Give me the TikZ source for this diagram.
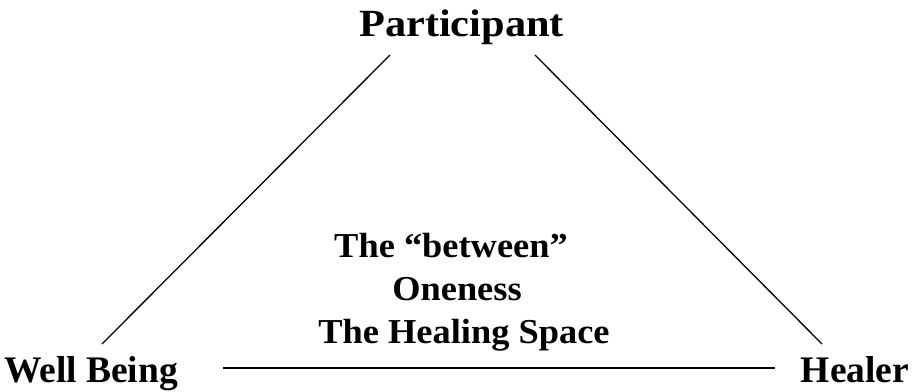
\documentclass[tikz,border=0pt]{standalone}
\usepackage{fontspec}
\setmainfont{Liberation Serif}
\begin{document}
\begin{tikzpicture}[x=1pt,y=-1pt,
  lbl/.style={font=\bfseries\fontsize{37.5}{44}\selectfont, inner sep=0pt, anchor=base},
  toplbl/.style={font=\bfseries\fontsize{38.5}{44}\selectfont, inner sep=0pt, anchor=base, xscale=1.1},
  midlbl/.style={font=\bfseries\fontsize{35}{40}\selectfont, inner sep=0pt, anchor=base, xscale=1.04},
  edge/.style={draw=black, line width=1.3pt}]
\useasboundingbox (0,0) rectangle (913,391);
\node[toplbl] (participant) at (461.5,36.5) {Participant};
\node[lbl] (wellbeing) at (91,382.5) {Well Being};
\node[lbl] (healer) at (855,382.5) {Healer};
\node[midlbl] (between) at (451,257) {The “between”};
\node[midlbl] (oneness) at (457,300) {Oneness};
\node[midlbl] (space) at (464,343.5) {The Healing Space};
\coordinate (pl) at (390,55);
\coordinate (pr) at (535,55);
\coordinate (wt) at (102,344);
\coordinate (ht) at (822,344);
\coordinate (wr) at (223,368);
\coordinate (hl) at (775,368);
\draw[edge] (pl) -- (wt);
\draw[edge] (pr) -- (ht);
\draw[edge] (wr) -- (hl);
\end{tikzpicture}
\end{document}
